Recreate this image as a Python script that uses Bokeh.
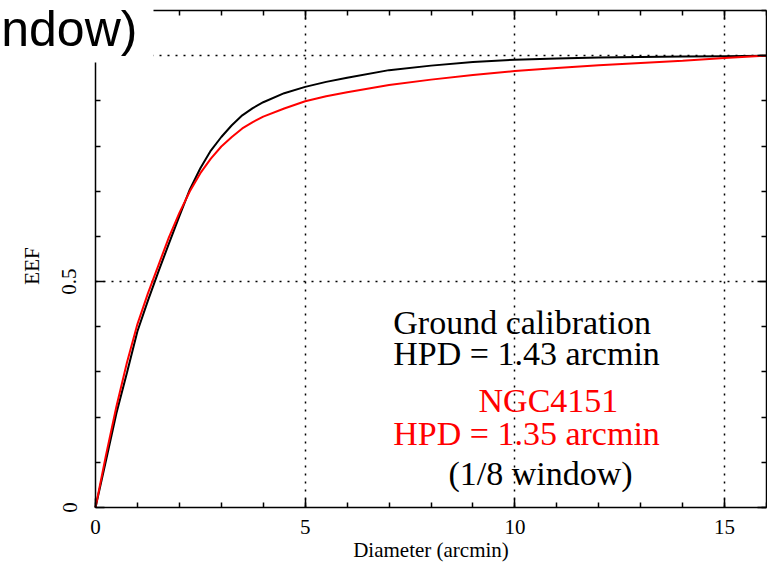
from bokeh.plotting import figure
from bokeh.models import (Range1d, LinearAxis, SingleIntervalTicker, FixedTicker,
                          Label, BoxAnnotation, PrintfTickFormatter)
from bokeh.embed import file_html
from bokeh.resources import INLINE

# ---- data ----
diameter = [0, 0.25, 0.5, 0.75, 1.0, 1.25, 1.5, 1.75, 2.0, 2.25, 2.5, 2.75, 3.0,
            3.25, 3.5, 3.75, 4.0, 4.5, 5.0, 5.5, 6.0, 7.0, 8.0, 9.0, 10.0, 11.0,
            12.0, 13.0, 14.0, 15.0, 16.0]
eef_ground = [0.0, 0.104, 0.209, 0.298, 0.390, 0.458, 0.522, 0.584, 0.645, 0.704,
              0.751, 0.790, 0.820, 0.846, 0.868, 0.884, 0.897, 0.917, 0.931, 0.942,
              0.951, 0.968, 0.978, 0.986, 0.991, 0.994, 0.996, 0.997, 0.998, 0.999, 1.0]
eef_ngc4151 = [0.0, 0.116, 0.224, 0.321, 0.406, 0.474, 0.536, 0.598, 0.652, 0.700,
               0.740, 0.772, 0.799, 0.820, 0.839, 0.853, 0.865, 0.883, 0.899, 0.910,
               0.919, 0.935, 0.947, 0.957, 0.966, 0.973, 0.979, 0.984, 0.989, 0.995, 1.0]

x_grid_ticks = [5, 10, 15]
y_grid_ticks = [0.5, 1.0]
y_label_ticks = [0, 0.5]
y_minor_ticks = [0.1, 0.2, 0.3, 0.4, 0.6, 0.7, 0.8, 0.9, 1.0]

SERIF = "Liberation Serif"

W, H = 767, 563
FRAME_L, FRAME_R, FRAME_T, FRAME_B = 95, 766, 10, 507   # axes box in pixels
X_MAX, Y_MAX = 16.0, 1.1
x_start = -X_MAX * FRAME_L / (FRAME_R - FRAME_L)
y_per_px = Y_MAX / (FRAME_B - FRAME_T)
y_end = Y_MAX + FRAME_T * y_per_px
y_start = -(H - FRAME_B) * y_per_px

p = figure(width=W, height=H, output_backend="svg", toolbar_location=None,
           x_range=Range1d(x_start, X_MAX), y_range=Range1d(y_start, y_end),
           min_border_left=0, min_border_right=W - FRAME_R, min_border_top=0,
           min_border_bottom=0)
p.outline_line_color = None
p.background_fill_color = "white"
p.border_fill_color = "white"

def style_axis(ax):
    ax.axis_line_color = "black"
    ax.axis_line_width = 1.5
    ax.major_tick_line_color = "black"
    ax.minor_tick_line_color = "black"
    ax.major_tick_line_width = 1.5
    ax.minor_tick_line_width = 1.5
    ax.major_tick_in = 9
    ax.major_tick_out = 0
    ax.minor_tick_in = 5
    ax.minor_tick_out = 0
    ax.major_label_text_font = SERIF
    ax.major_label_text_font_size = "21px"
    ax.major_label_text_color = "black"
    ax.axis_label_text_font = SERIF
    ax.axis_label_text_font_size = "21px"
    ax.axis_label_text_font_style = "normal"
    ax.axis_label_text_color = "black"

xa = p.xaxis[0]
xa.ticker = SingleIntervalTicker(interval=5, num_minor_ticks=5)
xa.axis_label = "Diameter (arcmin)"
xa.fixed_location = 0
xa.bounds = (0, X_MAX)
style_axis(xa)
xa.major_label_standoff = 12
xa.axis_label_standoff = 1

ya = p.yaxis[0]
ya.ticker = FixedTicker(ticks=y_label_ticks, minor_ticks=y_minor_ticks)
ya.axis_label = "EEF"
ya.fixed_location = 0
ya.bounds = (0, 1.07)
style_axis(ya)
ya.major_label_orientation = "vertical"
ya.major_label_standoff = 19
ya.axis_label_standoff = 16

top = LinearAxis(ticker=SingleIntervalTicker(interval=5, num_minor_ticks=5),
                 formatter=PrintfTickFormatter(format=""),
                 fixed_location=Y_MAX, bounds=(0, X_MAX))
style_axis(top)
top.major_label_standoff = 0
p.add_layout(top, "above")

right = LinearAxis(ticker=SingleIntervalTicker(interval=0.5, num_minor_ticks=5),
                   formatter=PrintfTickFormatter(format=""), bounds=(0, Y_MAX))
style_axis(right)
right.major_label_standoff = 0
p.add_layout(right, "right")

p.xgrid.ticker = FixedTicker(ticks=x_grid_ticks)
p.ygrid.ticker = FixedTicker(ticks=y_grid_ticks)
p.xgrid.cross_bounds = (0, Y_MAX)
p.ygrid.cross_bounds = (0, X_MAX)
for g in (p.xgrid, p.ygrid):
    g.grid_line_color = "black"
    g.grid_line_dash = "2 6"
    g.grid_line_width = 1.5
    g.grid_line_alpha = 1.0

# white masks outside the axes box (beneath curves and axes)
lo_x, hi_x = x_start - 5, X_MAX + 5
lo_y, hi_y = y_start - 1, y_end + 1
for l, r, b, t in ((lo_x, 0, lo_y, hi_y), (lo_x, hi_x, Y_MAX, hi_y),
                   (lo_x, hi_x, lo_y, 0)):
    p.add_layout(BoxAnnotation(left=l, right=r, bottom=b, top=t,
                               fill_color="white", fill_alpha=1.0,
                               line_color=None, level="underlay"))

p.line(diameter, eef_ground, line_color="black", line_width=2)
p.line(diameter, eef_ngc4151, line_color="#ff0000", line_width=2)

def add_text(x, y, t, color="black", align="left"):
    p.add_layout(Label(x=x, y=y, text=t, text_font=SERIF, text_font_size="34px",
                       text_color=color, text_align=align,
                       text_baseline="alphabetic"))

add_text(7.1, 0.409, "Ground calibration")
add_text(7.1, 0.341, "HPD = 1.43 arcmin")
add_text(10.8, 0.237, "NGC4151", color="#ff0000", align="center")
add_text(7.1, 0.164, "HPD = 1.35 arcmin", color="#ff0000")
add_text(10.61, 0.075, "(1/8 window)", align="center")

# white patch over the top-left corner of the axes, with the cropped big title
p.add_layout(BoxAnnotation(left=lo_x, right=1.383, bottom=0.985, top=hi_y,
                           fill_color="white", fill_alpha=1.0, line_color=None,
                           level="annotation"))
p.add_layout(Label(x=1.0, y=1.060, text="ndow)", text_font="Liberation Sans",
                   text_font_size="50px", text_color="black", text_align="right",
                   text_baseline="alphabetic"))

open("out.html", "w").write(file_html(p, INLINE))
